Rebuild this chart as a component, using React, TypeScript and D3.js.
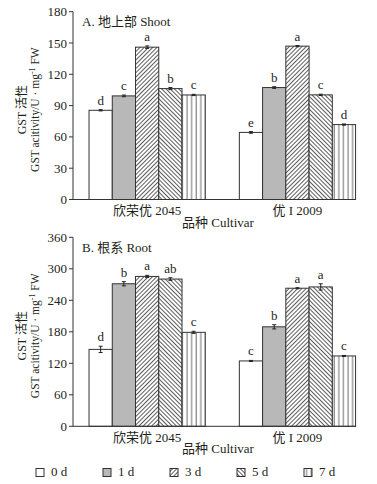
import React from "react";
import * as d3 from "d3";

const cultivars = ["欣荣优 2045", "优 I 2009"];
const days = ["0 d", "1 d", "3 d", "5 d", "7 d"];

const shootValues = [
  [85.5, 99.3, 146, 106.3, 100.2],
  [64.3, 107.3, 147, 100.3, 71.8],
];
const shootErrors = [
  [0.6, 0.8, 1.2, 1.0, 0.6],
  [0.8, 0.8, 0.6, 0.6, 0.6],
];
const shootLetters = [
  ["d", "c", "a", "b", "c"],
  ["e", "b", "a", "c", "d"],
];

const rootValues = [
  [146.5, 271.5, 285.5, 280.5, 179],
  [124.5, 189.5, 263, 265.5, 134],
];
const rootErrors = [
  [6, 4, 2, 2.5, 2],
  [1, 4, 1, 6, 1],
];
const rootLetters = [
  ["d", "b", "a", "ab", "c"],
  ["c", "b", "a", "a", "c"],
];

const shootTicks = [0, 30, 60, 90, 120, 150, 180];
const rootTicks = [0, 60, 120, 180, 240, 300, 360];

const W = 377;
const H = 484;
const AXIS_X = 73;
const AXIS_END = 356;
const SERIF = "'Liberation Serif', 'Times New Roman', serif";
const CJK = "'Liberation Serif', 'Noto Sans CJK SC', serif";
const TEXT = "#231f20";
const fills = ["#ffffff", "#b8b8b8", "url(#hatchF)", "url(#hatchB)", "url(#vlines)"];

const xGroup = d3
  .scaleBand<string>()
  .domain(cultivars)
  .range([72, 372.6])
  .paddingInner(0.2267)
  .paddingOuter(0.1133);
const xDay = d3.scaleBand<string>().domain(days).range([0, xGroup.bandwidth()]).padding(0);

type PanelProps = {
  values: number[][];
  errors: number[][];
  letters: string[][];
  ticks: number[];
  max: number;
  yTop: number;
  yBottom: number;
  title: string;
};

function Panel({ values, errors, letters, ticks, max, yTop, yBottom, title }: PanelProps) {
  const y = d3.scaleLinear().domain([0, max]).range([yBottom, yTop]);
  const mid = (yTop + yBottom) / 2 + 4;
  return (
    <g>
      {/* y axis title */}
      <text
        transform={`translate(26,${mid}) rotate(-90)`}
        textAnchor="middle"
        fontFamily={CJK}
        fontSize={12}
        fill={TEXT}
      >
        GST 活性
      </text>
      <text
        transform={`translate(39,${mid}) rotate(-90)`}
        textAnchor="middle"
        fontFamily={SERIF}
        fontSize={11.5}
        fill={TEXT}
      >
        GST acitivity/U · mg
        <tspan dy={-4} fontSize={8}>-1</tspan>
        <tspan dy={4}> FW</tspan>
      </text>
      {/* bars */}
      {cultivars.map((c, gi) =>
        days.map((d, di) => {
          const v = values[gi][di];
          const e = errors[gi][di];
          const x0 = (xGroup(c) as number) + (xDay(d) as number);
          const bw = xDay.bandwidth();
          const cx = x0 + bw / 2;
          const errTop = y(v + e);
          return (
            <g key={`${gi}-${di}`}>
              <rect
                x={x0}
                y={y(v)}
                width={bw}
                height={yBottom - y(v)}
                fill={fills[di]}
                stroke="#333"
                strokeWidth={1}
              />
              <line x1={cx} x2={cx} y1={y(v - e)} y2={errTop} stroke="#222" strokeWidth={1} />
              <line x1={cx - 2} x2={cx + 2} y1={errTop} y2={errTop} stroke="#222" strokeWidth={1} />
              <line x1={cx - 2} x2={cx + 2} y1={y(v - e)} y2={y(v - e)} stroke="#222" strokeWidth={1} />
              <text
                x={cx}
                y={errTop - 5}
                textAnchor="middle"
                fontFamily={SERIF}
                fontSize={13}
                fill={TEXT}
              >
                {letters[gi][di]}
              </text>
            </g>
          );
        })
      )}
      {/* axes */}
      <line x1={AXIS_X} x2={AXIS_X} y1={yTop} y2={yBottom} stroke="#333" strokeWidth={1} />
      <line x1={AXIS_X} x2={AXIS_END} y1={yBottom} y2={yBottom} stroke="#333" strokeWidth={1} />
      {ticks.map((t) => (
        <g key={t}>
          <line x1={AXIS_X - 4} x2={AXIS_X} y1={y(t)} y2={y(t)} stroke="#333" strokeWidth={1} />
          <text
            x={AXIS_X - 6}
            y={y(t) + 4.5}
            textAnchor="end"
            fontFamily={SERIF}
            fontSize={13}
            fill={TEXT}
          >
            {t}
          </text>
        </g>
      ))}
      <text x={82} y={yTop + 14.5} fontFamily={CJK} fontSize={13} fill={TEXT}>
        {title}
      </text>
      {cultivars.map((c) => (
        <text
          key={c}
          x={(xGroup(c) as number) + xGroup.bandwidth() / 2}
          y={yBottom + 15.5}
          textAnchor="middle"
          fontFamily={CJK}
          fontSize={13}
          fill={TEXT}
        >
          {c}
        </text>
      ))}
      <text
        x={218}
        y={yBottom + 27}
        textAnchor="middle"
        fontFamily={CJK}
        fontSize={13}
        fill={TEXT}
      >
        品种 Cultivar
      </text>
    </g>
  );
}

export default function App() {
  return (
    <svg
      width={W}
      height={H}
      style={{ position: "absolute", left: 0, top: 0, background: "#fff" }}
    >
      <defs>
        <pattern id="hatchF" patternUnits="userSpaceOnUse" width={3} height={3} patternTransform="rotate(45)">
          <rect width={3} height={3} fill="#fff" />
          <line x1={0.5} y1={0} x2={0.5} y2={3} stroke="#333" strokeWidth={0.8} />
        </pattern>
        <pattern id="hatchB" patternUnits="userSpaceOnUse" width={3} height={3} patternTransform="rotate(-45)">
          <rect width={3} height={3} fill="#fff" />
          <line x1={0.5} y1={0} x2={0.5} y2={3} stroke="#333" strokeWidth={0.8} />
        </pattern>
        <pattern id="vlines" patternUnits="userSpaceOnUse" width={4.6} height={4} x={1}>
          <rect width={4.6} height={4} fill="#fff" />
          <line x1={2} y1={0} x2={2} y2={4} stroke="#555" strokeWidth={0.9} />
        </pattern>
      </defs>
      <rect width={W} height={H} fill="#fff" />
      <Panel
        values={shootValues}
        errors={shootErrors}
        letters={shootLetters}
        ticks={shootTicks}
        max={180}
        yTop={11.7}
        yBottom={199.5}
        title="A. 地上部 Shoot"
      />
      <Panel
        values={rootValues}
        errors={rootErrors}
        letters={rootLetters}
        ticks={rootTicks}
        max={360}
        yTop={237.3}
        yBottom={426.3}
        title="B. 根系 Root"
      />
      {days.map((d, i) => (
        <g key={d}>
          <rect
            x={36 + 67 * i}
            y={468.5}
            width={8}
            height={8}
            fill={fills[i]}
            stroke="#333"
            strokeWidth={1}
          />
          <text x={51 + 67 * i} y={476} fontFamily={SERIF} fontSize={13} fill={TEXT}>
            {d}
          </text>
        </g>
      ))}
    </svg>
  );
}
